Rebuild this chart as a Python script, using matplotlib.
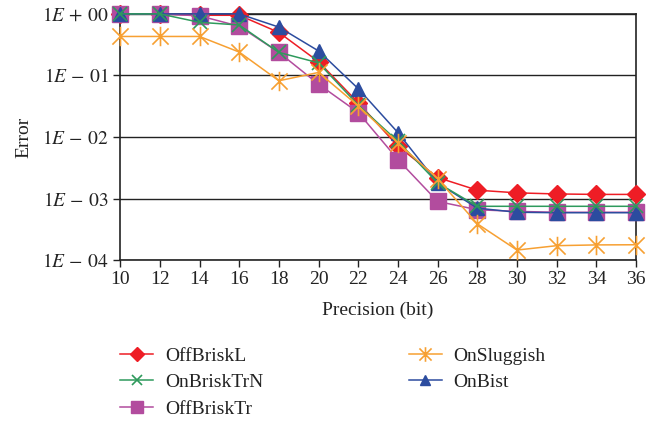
import numpy as np
import matplotlib
matplotlib.use("Agg")
import matplotlib.pyplot as plt
from matplotlib.path import Path

plt.rcParams['font.family'] = ['Liberation Serif', 'DejaVu Serif']
plt.rcParams['mathtext.fontset'] = 'stix'

precision = [10, 12, 14, 16, 18, 20, 22, 24, 26, 28, 30, 32, 34, 36]

off_brisk_l = [1.0, 1.0, 0.95, 0.95, 0.50, 0.167, 0.036, 0.0071, 0.0022, 0.00137, 0.00124, 0.00119, 0.00117, 0.00117]
on_brisk_trn = [1.0, 1.0, 0.73, 0.66, 0.237, 0.16, 0.033, 0.0085, 0.0018, 0.00075, 0.00075, 0.00075, 0.00075, 0.00075]
off_brisk_tr = [1.0, 1.0, 0.93, 0.63, 0.237, 0.072, 0.025, 0.0043, 0.00090, 0.00066, 0.00062, 0.00060, 0.00060, 0.00060]
on_sluggish = [0.43, 0.43, 0.43, 0.24, 0.082, 0.112, 0.032, 0.008, 0.0021, 0.00039, 0.000146, 0.000172, 0.000177, 0.000178]
on_bist = [1.0, 1.0, 1.0, 1.0, 0.61, 0.25, 0.061, 0.0118, 0.0018, 0.00070, 0.00060, 0.00059, 0.00059, 0.00059]

ytick_vals = [1e0, 1e-1, 1e-2, 1e-3, 1e-4]
ytick_labels = [r'$1E\,+\,00$', r'$1E\,-\,01$', r'$1E\,-\,02$', r'$1E\,-\,03$', r'$1E\,-\,04$']

# asterisk marker: X plus vertical bar
star = Path([(-0.5, -0.5), (0.5, 0.5), (-0.5, 0.5), (0.5, -0.5), (0, -0.6), (0, 0.6)],
            [Path.MOVETO, Path.LINETO, Path.MOVETO, Path.LINETO, Path.MOVETO, Path.LINETO])

fig = plt.figure(figsize=(6.53, 4.21), dpi=100)
ax = fig.add_axes([0.184, 0.382, 0.790, 0.585])

lw = 1.1
common = dict(lw=lw, clip_on=False)
h_red, = ax.plot(precision, off_brisk_l, color='#EE1D25', marker='D', ms=9,
                 markeredgecolor='#EE1D25', label='OffBriskL', zorder=3, **common)
h_pur, = ax.plot(precision, off_brisk_tr, color='#B24C9E', marker='s', ms=11,
                 markeredgecolor='#B24C9E', label='OffBriskTr', zorder=4, **common)
h_blu, = ax.plot(precision, on_bist, color='#2C4C9F', marker='^', ms=10,
                 markeredgecolor='#2C4C9F', label='OnBist', zorder=5, **common)
h_grn, = ax.plot(precision, on_brisk_trn, color='#2E9A5C', marker='x', ms=10, mew=1.2,
                 label='OnBriskTrN', zorder=6, **common)
h_org, = ax.plot(precision, on_sluggish, color='#F7A032', marker=star, ms=14, mew=1.2,
                 label='OnSluggish', zorder=7, **common)

ax.set_yscale('log')
ax.set_ylim(1e-4, 1e0)
ax.set_xlim(10, 36)
ax.set_xticks(precision)
ax.set_xticklabels([str(p) for p in precision])
ax.set_yticks(ytick_vals)
ax.set_yticklabels(ytick_labels)
ax.yaxis.set_minor_locator(matplotlib.ticker.NullLocator())
ax.grid(True, axis='y', color='#222222', lw=1.0)
ax.set_axisbelow(True)
for s in ax.spines.values():
    s.set_color('#222222')
    s.set_linewidth(1.2)
ax.tick_params(axis='both', direction='out', length=5, width=1.0, colors='#222222',
               labelsize=14, labelcolor='#222222')
ax.tick_params(axis='x', pad=3)
ax.set_xlabel('Precision (bit)', fontsize=14, color='#222222', labelpad=10)
ax.set_ylabel('Error', fontsize=14, color='#222222', labelpad=7)

leg = fig.legend(handles=[h_red, h_grn, h_pur, h_org, h_blu],
                 labels=['OffBriskL', 'OnBriskTrN', 'OffBriskTr', 'OnSluggish', 'OnBist'],
                 ncol=2, loc='upper left', bbox_to_anchor=(0.184, 0.175), frameon=False,
                 fontsize=14, handlelength=1.7, columnspacing=7.5, labelspacing=0.45,
                 handletextpad=0.6, borderaxespad=0, borderpad=0, markerscale=0.75)
for t in leg.get_texts():
    t.set_color('#222222')

fig.savefig('out.png', dpi=100)
